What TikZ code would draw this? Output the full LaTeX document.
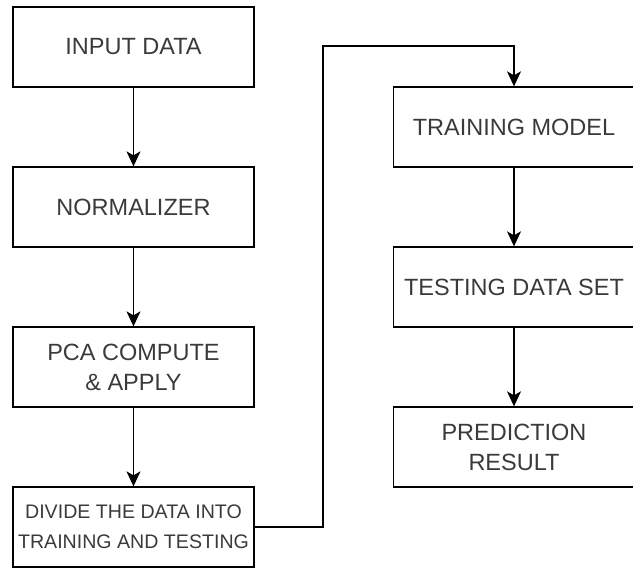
\documentclass[tikz,border=0pt]{standalone}
\usepackage{fontspec}
\setmainfont{Liberation Sans}
\usetikzlibrary{arrows.meta, calc}
\usepackage{xcolor}
\definecolor{boxText}{HTML}{3A3A3A}
\tikzset{
    StepBox/.style={draw=black, line width=1.3pt, minimum width=241pt, minimum height=80pt, text=boxText, align=center, font=\fontsize{23.5}{30}\selectfont, inner sep=0pt},
    SmallStepBox/.style={StepBox, font=\fontsize{19.6}{30}\selectfont},
    FlowArrow/.style={-{Stealth[length=15pt, width=14pt, inset=4pt]}, line width=1.3pt}
}
\begin{document}
\begin{tikzpicture}[x=1pt, y=1pt]
    \useasboundingbox (0, 0) rectangle (633, -568);

    % left column
    \node[StepBox] (input) at (133.5, -47) {INPUT DATA};
    \node[StepBox] (norm) at (133.5, -207) {NORMALIZER};
    \node[StepBox] (pca) at (133.5, -367) {PCA COMPUTE\\ \& APPLY};
    \node[SmallStepBox] (divide) at (133.5, -527) {DIVIDE THE DATA INTO\\TRAINING AND TESTING};

    % right column
    \node[StepBox] (train) at (514, -127) {TRAINING MODEL};
    \node[StepBox] (test) at (514, -287) {TESTING DATA SET};
    \node[StepBox] (pred) at (514, -447) {PREDICTION\\RESULT};

    \draw[FlowArrow] (input) -- (norm);
    \draw[FlowArrow] (norm) -- (pca);
    \draw[FlowArrow] (pca) -- (divide);

    \coordinate (jump) at (323, -46);
    \draw[FlowArrow] (divide.east) -| (jump) -| (train.north);

    \draw[FlowArrow] (train) -- (test);
    \draw[FlowArrow] (test) -- (pred);
\end{tikzpicture}
\end{document}
